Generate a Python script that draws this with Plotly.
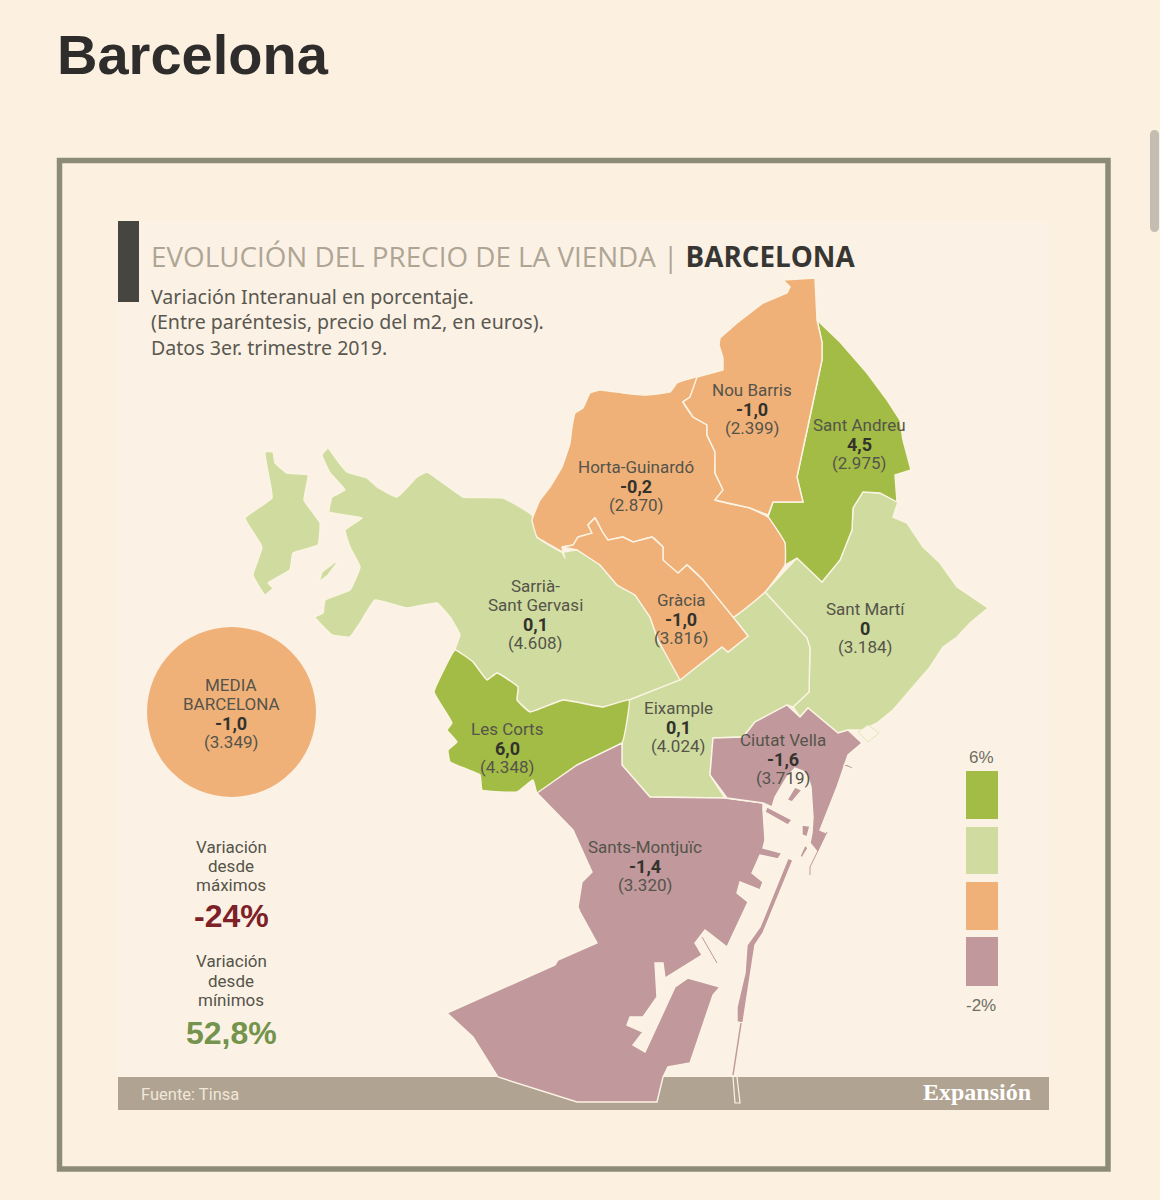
import plotly.graph_objects as go

# ---- data ----
districts = ["Nou Barris", "Sant Andreu", "Horta-Guinardó", "Sarrià-<br>Sant Gervasi", "Gràcia",
             "Sant Martí", "Eixample", "Les Corts", "Ciutat Vella", "Sants-Montjuïc"]
variation = ["-1,0", "4,5", "-0,2", "0,1", "-1,0", "0", "0,1", "6,0", "-1,6", "-1,4"]
price = ["(2.399)", "(2.975)", "(2.870)", "(4.608)", "(3.816)", "(3.184)", "(4.024)", "(4.348)", "(3.719)", "(3.320)"]
label_x = [752, 859, 636, 535, 681, 865, 678, 507, 783, 645]
label_y = [390, 425, 467, 586, 600, 609, 708, 729, 740, 847]

DARK_GREEN = "#A3BC45"
LIGHT_GREEN = "#D0DC9F"
ORANGE = "#F0B179"
MAUVE = "#C1989C"
legend_colors = [DARK_GREEN, LIGHT_GREEN, ORANGE, MAUVE]

nou_barris = [(783,280),(815,278),(817,320),(822,342),(822,360),(810,417),(797,477),(803,502),(773,502),(768,515),(750,508),(715,500),(723,490),(715,473),(715,452),(707,435),(707,425),(693,417),(683,402),(690,397),(697,377),(723,370),(723,358),(719,345),(720,338),(737,323),(750,313),(763,303),(787,293),(790,287)]
horta = [(697,377),(677,383),(670,392),(647,395),(623,393),(600,390),(590,393),(583,408),(575,413),(572,427),(570,443),(562,467),(550,487),(540,500),(532,520),(537,537),(562,552),(565,558),(562,547),(573,545),(578,537),(592,533),(588,525),(595,518),(603,533),(608,540),(623,537),(633,542),(652,537),(663,547),(663,560),(678,573),(687,565),(703,580),(733,617),(765,592),(785,565),(785,543),(768,517),(750,508),(715,500),(723,490),(715,473),(715,452),(707,435),(707,425),(693,417),(683,402),(690,397)]
gracia = [(562,547),(573,545),(578,537),(592,533),(588,525),(595,518),(603,533),(608,540),(623,537),(633,542),(652,537),(663,547),(663,560),(678,573),(687,565),(703,580),(733,617),(748,636),(728,652),(722,647),(680,680),(658,640),(650,617),(635,595),(617,585),(600,565),(577,550)]
sant_andreu = [(817,320),(840,342),(867,373),(887,400),(900,420),(903,440),(911,470),(895,475),(897,502),(880,493),(863,492),(853,508),(852,530),(840,560),(822,582),(797,558),(785,565),(785,543),(768,517),(773,502),(803,502),(797,477),(810,417),(822,360),(822,342)]
sant_marti = [(863,492),(880,493),(898,502),(893,517),(907,523),(923,547),(940,563),(957,587),(988,608),(970,623),(957,637),(943,647),(930,667),(913,687),(893,710),(877,723),(863,730),(848,730),(838,733),(808,708),(800,717),(793,707),(809,692),(810,648),(807,638),(765,592),(797,558),(822,582),(840,560),(852,530),(853,508)]
eixample = [(629,700),(622,743),(622,765),(650,797),(725,798),(710,775),(713,738),(743,737),(755,722),(787,705),(793,707),(809,692),(810,648),(807,638),(765,592),(733,617),(748,636),(728,652),(722,647),(680,680)]
sarria_main = [(328,448),(322,455),(330,473),(345,490),(332,497),(329,512),(362,518),(345,530),(350,547),(360,567),(350,590),(325,600),(323,613),(315,617),(332,635),(350,637),(360,623),(375,600),(407,608),(437,603),(450,617),(460,635),(455,650),(473,662),(487,680),(497,673),(518,687),(517,700),(530,712),(563,700),(603,707),(629,700),(680,680),(658,640),(650,617),(635,595),(617,585),(600,565),(577,550),(562,552),(537,537),(532,515),(503,498),(463,497),(443,483),(427,472),(417,477),(397,497),(377,487),(367,478),(347,472),(337,460)]
sarria_west = [(265,452),(273,452),(275,463),(287,473),(308,475),(304,500),(320,523),(318,545),(293,553),(290,570),(268,583),(273,588),(265,595),(253,575),(262,547),(245,518),(272,498),(267,467)]
sarria_sliver = [(335,562),(322,572),(319,582),(328,575),(337,563)]
les_corts = [(455,650),(473,662),(487,680),(497,673),(518,687),(517,700),(530,712),(563,700),(603,707),(629,700),(622,743),(577,765),(537,793),(533,780),(517,792),(482,790),(480,775),(450,762),(448,750),(457,742),(447,730),(452,723),(440,703),(434,692)]
sants = [(622,743),(622,765),(650,797),(725,798),(763,803),(763,810),(765,840),(763,848),(782,853),(778,859),(760,855),(752,873),(763,882),(760,890),(740,882),(737,893),(748,902),(730,940),(727,947),(705,930),(695,943),(702,955),(665,978),(663,963),(655,963),(657,997),(643,1017),(630,1017),(627,1025),(643,1032),(633,1045),(645,1052),(675,987),(688,978),(720,987),(713,995),(690,1063),(668,1067),(663,1077),(657,1102),(577,1102),(498,1077),(473,1037),(447,1013),(555,965),(558,960),(597,943),(580,912),(578,907),(582,882),(592,872),(573,830),(553,810),(537,793),(577,765)]
sants_strip = [(788,858),(793,860),(763,933),(755,945),(748,990),(743,1023),(737,1022),(737,1007),(745,973),(747,945),(760,927)]
ciutat_vella = [(713,738),(743,737),(755,722),(787,705),(800,717),(808,708),(838,733),(848,730),(862,743),(848,755),(837,787),(820,830),(827,833),(818,853),(810,843),(812,833),(813,817),(811,787),(808,777),(803,771),(795,768),(787,777),(775,797),(772,807),(763,803),(727,798),(710,775)]
cv_island_a = [(795,787),(802,790),(792,802),(787,800)]
cv_island_b = [(767,807),(792,820),(788,825),(765,812)]
cv_island_c = [(802,825),(810,826),(807,837),(802,835)]
cv_island_d = [(845,763),(853,767),(852,769),(844,766)]
cv_island_e = [(805,845),(808,848),(802,858),(800,856)]
breakwater_top = [(741,1023),(733,1075)]
breakwater_foot = [(733,1077),(735,1103),(740,1103),(737,1077)]
port_line_a = [(702,937),(717,963)]
port_line_b = [(827,832),(810,867),(810,875)]
marina = [(858,732),(868,725),(879,733),(868,742)]

regions = [
    (sarria_main, LIGHT_GREEN, True), (sarria_west, LIGHT_GREEN, True), (sarria_sliver, LIGHT_GREEN, False),
    (sant_marti, LIGHT_GREEN, False), (eixample, LIGHT_GREEN, False),
    (les_corts, DARK_GREEN, True), (sant_andreu, DARK_GREEN, False),
    (horta, ORANGE, True), (nou_barris, ORANGE, False), (gracia, ORANGE, False),
    (sants, MAUVE, False), (sants_strip, MAUVE, False), (ciutat_vella, MAUVE, False),
    (cv_island_a, MAUVE, False), (cv_island_b, MAUVE, False), (cv_island_c, MAUVE, False),
    (cv_island_d, MAUVE, False), (cv_island_e, MAUVE, False),
]

# ---- figure ----
BG = "#FCF0E1"
PANEL = "#FBF2E5"
BORDER = "#FBF4E4"
BAND = "#B1A391"
LABEL_FONT = "Roboto, sans-serif"
TEXT = "#55544A"

fig = go.Figure()
for poly, colour, smooth in regions:
    xs = [p[0] for p in poly] + [poly[0][0]]
    ys = [p[1] for p in poly] + [poly[0][1]]
    line = dict(color=BORDER, width=1.4)
    if smooth:
        line.update(shape="spline", smoothing=0.3)
    fig.add_trace(go.Scatter(x=xs, y=ys, mode="lines", fill="toself", fillcolor=colour,
                             line=line, hoverinfo="skip", showlegend=False))

for path, colour, w in [(breakwater_top, MAUVE, 1.5), (breakwater_foot, BORDER, 1.2),
                        (port_line_a, MAUVE, 1), (port_line_b, MAUVE, 1)]:
    fig.add_trace(go.Scatter(x=[p[0] for p in path], y=[p[1] for p in path], mode="lines",
                             line=dict(color=colour, width=w), hoverinfo="skip", showlegend=False))
fig.add_trace(go.Scatter(x=[p[0] for p in marina] + [marina[0][0]], y=[p[1] for p in marina] + [marina[0][1]],
                         mode="lines", fill="toself", fillcolor=BORDER, line=dict(color="#E3E6BD", width=1),
                         hoverinfo="skip", showlegend=False))

shapes = [
    dict(type="rect", x0=59.5, x1=1108, y0=160.5, y1=1169, line=dict(color="#8C8C76", width=5.5), fillcolor=BG, layer="below"),
    dict(type="rect", x0=118, x1=1049, y0=221, y1=1078, line=dict(width=0), fillcolor=PANEL, layer="below"),
    dict(type="rect", x0=118, x1=139, y0=221, y1=302, line=dict(width=0), fillcolor="#47453F", layer="below"),
    dict(type="rect", x0=118, x1=1049, y0=1077, y1=1110, line=dict(width=0), fillcolor=BAND, layer="below"),
    dict(type="circle", x0=147, x1=316, y0=627, y1=797, line=dict(width=0), fillcolor=ORANGE, layer="below"),
    dict(type="rect", x0=1150, x1=1159, y0=135, y1=227, line=dict(width=0), fillcolor="#C4BDB2", layer="below"),
    dict(type="circle", x0=1150, x1=1159, y0=130, y1=139, line=dict(width=0), fillcolor="#C4BDB2", layer="below"),
    dict(type="circle", x0=1150, x1=1159, y0=223, y1=232, line=dict(width=0), fillcolor="#C4BDB2", layer="below"),
]
legend_top = [771, 827, 882, 937]
legend_bottom = [819, 874, 930, 986]
for c, t, b in zip(legend_colors, legend_top, legend_bottom):
    shapes.append(dict(type="rect", x0=966, x1=998, y0=t, y1=b, line=dict(width=0), fillcolor=c, layer="below"))

ann = []


def txt(x, y, s, size, color=TEXT, family=LABEL_FONT, anchor="center"):
    ann.append(dict(x=x, y=y, text=s, showarrow=False, xanchor=anchor, yanchor="middle", align=anchor,
                    font=dict(family=family, size=size, color=color), xref="x", yref="y"))


txt(55, 54, "<b>Barcelona</b>", 56, "#2E2D2C", "Liberation Sans, Arial, sans-serif", "left")
txt(149, 256, "EVOLUCIÓN DEL PRECIO DE LA VIENDA | <b><span style='color:#383632'>BARCELONA</span></b>", 27.8,
    "#AFA595", "Open Sans, sans-serif", "left")
txt(149, 322, "<br>".join(["Variación Interanual en porcentaje.",
                           "(Entre paréntesis, precio del m2, en euros).",
                           "Datos 3er. trimestre 2019."]), 19.6, "#5A5850", "Noto Sans, sans-serif", "left")

for name, v, p, x, y in zip(districts, variation, price, label_x, label_y):
    lines = name.split("<br>")
    for i, part in enumerate(lines):
        txt(x, y + 19 * i, part, 17)
    n = len(lines)
    txt(x, y + 19 * n, f"<b>{v}</b>", 18, "#33322C")
    txt(x, y + 19 * (n + 1), p, 17)

for y, s in zip([685, 704], ["MEDIA", "BARCELONA"]):
    txt(231, y, s, 17)
txt(231, 723, "<b>-1,0</b>", 18, "#33322C")
txt(231, 742, "(3.349)", 17)

for y, s in zip([847, 866, 885, 961, 981, 1000], ["Variación", "desde", "máximos", "Variación", "desde", "mínimos"]):
    txt(231, y, s, 17)
txt(231, 916, "<b>-24%</b>", 32, "#7E2027", "Liberation Sans, sans-serif")
txt(231, 1033, "<b>52,8%</b>", 32, "#74934C", "Liberation Sans, sans-serif")

txt(981, 757, "6%", 17, "#6F6D63", "Liberation Sans, sans-serif")
txt(981, 1005, "-2%", 17, "#6F6D63", "Liberation Sans, sans-serif")

txt(139, 1094, "Fuente: Tinsa", 16.5, "#EFE8DA", LABEL_FONT, "left")
txt(921, 1092, "<b>Expansión</b>", 24, "#FFFFFF", "Liberation Serif, serif", "left")

fig.update_layout(
    width=1160, height=1200, margin=dict(l=0, r=0, t=0, b=0),
    paper_bgcolor=BG, plot_bgcolor=BG, showlegend=False,
    xaxis=dict(range=[0, 1160], visible=False, fixedrange=True),
    yaxis=dict(range=[1200, 0], visible=False, fixedrange=True),
    shapes=shapes, annotations=ann,
)
fig.write_html("out.html", config={"displayModeBar": False},
               post_script="document.body.style.margin='0';document.body.style.overflow='hidden';")
